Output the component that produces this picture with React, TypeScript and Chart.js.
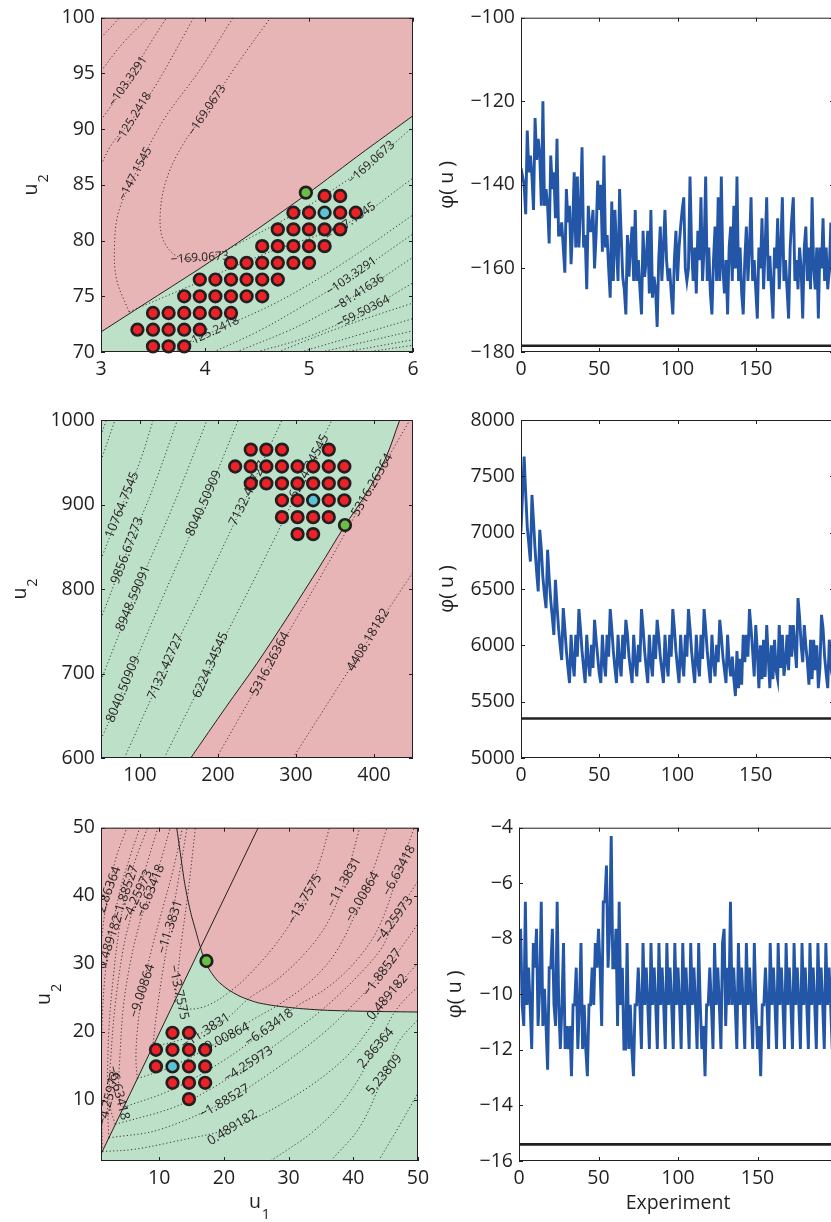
import React, { useEffect, useRef } from "react";
import { Chart, registerables } from "chart.js";

Chart.register(...registerables);

const FONT = '"Open Sans", "Noto Sans", "DejaVu Sans", sans-serif';
const INK = "#231f20";
const PINK = "#e8b5b6";
const MINT = "#bde0c9";
const RED = "#ec2226";
const CYAN = "#5bc4d4";
const LIME = "#6abd45";
const BLUE = "#2356a6";
const CONTOUR = "rgba(35,31,32,0.85)";

Chart.defaults.font.family = FONT;
Chart.defaults.color = INK;

// ---------------- Panel 1 (top-left) ----------------
const p1XTicks = [3, 4, 5, 6];
const p1YTicks = [70, 75, 80, 85, 90, 95, 100];
const p1Boundary = [[3, 71.8], [3.5, 74.8], [4, 77.8], [4.5, 81.0], [5, 84.3], [5.5, 87.8], [6, 91.2]];
const p1RedDots = [
  [3.5, 70.5], [3.65, 70.5], [3.8, 70.5],
  [3.35, 72], [3.5, 72], [3.65, 72], [3.8, 72], [3.95, 72],
  [3.5, 73.5], [3.65, 73.5], [3.8, 73.5], [3.95, 73.5], [4.1, 73.5], [4.25, 73.5],
  [3.8, 75], [3.95, 75], [4.1, 75], [4.25, 75], [4.4, 75], [4.55, 75],
  [3.95, 76.5], [4.1, 76.5], [4.25, 76.5], [4.4, 76.5], [4.55, 76.5], [4.7, 76.5],
  [4.25, 78], [4.4, 78], [4.55, 78], [4.7, 78], [4.85, 78], [5.0, 78],
  [4.55, 79.5], [4.7, 79.5], [4.85, 79.5], [5.0, 79.5], [5.15, 79.5],
  [4.7, 81], [4.85, 81], [5.0, 81], [5.15, 81], [5.3, 81],
  [4.85, 82.5], [5.0, 82.5], [5.3, 82.5], [5.45, 82.5],
  [5.15, 84], [5.3, 84],
];
const p1CyanDot = [[5.15, 82.5]];
const p1GreenDot = [[4.97, 84.3]];
const p1Contours = [
  [[3, 98.2], [3.18, 100]],
  [[3, 95.2], [3.2, 97.6], [3.45, 100]],
  [[3, 90.8], [3.26, 94.3], [3.42, 96.9], [3.63, 100]],
  [[3, 86.8], [3.1, 88.6], [3.31, 91.0], [3.55, 94.3], [3.89, 100]],
  [[3.27, 73.6], [3.15, 76.5], [3.13, 79.6], [3.17, 82.6], [3.33, 86.0], [3.6, 90.8], [3.95, 95.3], [4.27, 100]],
  [[4.3, 79.6], [4.0, 78.4], [3.75, 78.5], [3.6, 80.0], [3.57, 82.5], [3.63, 85.5], [3.78, 88.5], [4.02, 91.7], [4.3, 95.7], [4.63, 100]],
  [[4.3, 79.6], [4.9, 82.6], [5.3, 85.0], [5.6, 87.0], [6, 90.2]],
  [[3.27, 73.6], [3.9, 76.1], [4.6, 78.9], [5.4, 81.7], [6, 85.6]],
  [[3.7, 70], [4.07, 71.8], [4.7, 74.5], [5.3, 77.8], [6, 82.3]],
  [[4.08, 70], [4.5, 71.8], [4.9, 73.9], [5.41, 76.8], [6, 80.6]],
  [[4.3, 70], [4.8, 71.9], [5.1, 73.3], [5.48, 75.3], [6, 78.5]],
  [[4.5, 70], [5.0, 71.4], [5.52, 73.6], [6, 76.2]],
  [[4.7, 70], [5.3, 72.2], [6, 74.4]],
  [[4.92, 70], [5.5, 71.6], [6, 73.0]],
  [[5.12, 70], [6, 71.9]],
  [[5.35, 70], [6, 71.1]],
  [[5.56, 70], [6, 70.6]],
];
const p1Labels = [
  ["\u2212103.3291", 3.26, 94.3, -55],
  ["\u2212125.2418", 3.31, 91.0, -58],
  ["\u2212147.1545", 3.33, 86.0, -62],
  ["\u2212169.0673", 4.02, 91.7, -56],
  ["\u2212169.0673", 3.95, 78.45, -4],
  ["\u2212169.0673", 5.6, 87.0, -42],
  ["\u2212147.1545", 5.4, 81.7, -35],
  ["\u2212125.2418", 4.07, 71.8, -25],
  ["\u2212103.3291", 5.41, 76.8, -35],
  ["\u221281.41636", 5.48, 75.3, -33],
  ["\u221259.50364", 5.52, 73.6, -27],
];

// ---------------- Panel 2 (top-right) ----------------
const p2XTicks = [0, 50, 100, 150];
const p2YTicks = [-180, -160, -140, -120, -100];
const p2Optimum = -178.5;
const p2Phi = [
  -136, -138, -140, -147, -127, -137, -133, -138, -146, -124,
  -134, -129, -133, -145, -120, -145, -141, -145, -154, -133,
  -141, -137, -148, -129, -152, -152, -149, -155, -161, -141,
  -149, -145, -159, -150, -137, -155, -138, -155, -146, -131,
  -155, -152, -165, -145, -151, -151, -146, -160, -152, -139,
  -146, -140, -156, -133, -155, -152, -160, -167, -144, -163,
  -146, -155, -163, -141, -152, -162, -165, -171, -152, -162,
  -155, -150, -163, -146, -163, -158, -165, -171, -151, -162,
  -158, -151, -166, -146, -167, -162, -165, -174, -158, -150,
  -163, -155, -146, -158, -163, -160, -166, -171, -158, -151,
  -163, -155, -150, -146, -143, -160, -163, -160, -138, -155,
  -163, -155, -166, -151, -158, -143, -163, -155, -138, -163,
  -155, -166, -171, -158, -150, -163, -143, -163, -138, -160,
  -166, -158, -171, -155, -150, -163, -145, -160, -138, -163,
  -155, -166, -171, -158, -150, -163, -155, -143, -163, -158,
  -165, -172, -155, -160, -148, -165, -155, -143, -163, -157,
  -165, -172, -155, -160, -148, -165, -155, -143, -163, -158,
  -165, -172, -155, -148, -143, -163, -158, -165, -155, -160,
  -172, -155, -150, -163, -155, -165, -143, -160, -165, -155,
  -172, -155, -160, -148, -163, -155, -165, -160, -149, -163,
  -166,
];

// ---------------- Panel 3 (middle-left) ----------------
const p3XTicks = [100, 200, 300, 400];
const p3YTicks = [600, 700, 800, 900, 1000];
const p3Boundary = [[165, 600], [210, 660], [250, 712], [290, 768], [330, 826], [362, 874], [390, 913], [415, 955], [433, 1000], [450, 1040]];
const p3RedDots = [
  [242, 965], [262, 965], [282, 965], [342, 965],
  [222, 945], [242, 945], [262, 945], [282, 945], [302, 945], [322, 945], [342, 945], [362, 945],
  [242, 925], [262, 925], [282, 925], [302, 925], [322, 925], [342, 925], [362, 925],
  [282, 905], [302, 905], [342, 905], [362, 905],
  [282, 885], [302, 885], [322, 885], [342, 885],
  [302, 865], [322, 865],
];
const p3CyanDot = [[322, 905]];
const p3GreenDot = [[362.8, 875.7]];
const p3Contours = [
  [[50, 982], [57, 1000]],
  [[50, 952], [68, 1000]],
  [[50, 835], [77.3, 899.4], [100, 951], [117, 1000]],
  [[50, 765], [83.8, 845.4], [117, 920], [148, 1000]],
  [[50, 692], [91.5, 789], [140, 893], [186, 1000]],
  [[50, 622], [78.6, 681.3], [130, 792], [182, 901.4], [226, 1000]],
  [[80, 600], [133, 708], [185, 808], [238.6, 913], [282, 1000]],
  [[131, 600], [190.6, 710], [270, 855], [346, 1000]],
  [[198, 600], [266.7, 711.2], [330, 812], [397.8, 923], [446, 1000]],
  [[296, 600], [392.7, 739.7], [450, 820]],
];
const p3Labels = [
  ["10764.7545", 77.3, 899.4, -68],
  ["9856.67273", 83.8, 845.4, -69],
  ["8948.59091", 91.5, 789, -67],
  ["8040.50909", 78.6, 681.3, -68],
  ["7132.42727", 133, 708, -66],
  ["6224.34545", 190.6, 710, -66],
  ["8040.50909", 182, 901.4, -66],
  ["7132.42727", 238.6, 913, -64],
  ["6224.34545", 317, 945, -62],
  ["5316.26364", 266.7, 711.2, -62],
  ["5316.26364", 397.8, 923, -60],
  ["4408.18182", 392.7, 739.7, -59],
];

// ---------------- Panel 4 (middle-right) ----------------
const p4XTicks = [0, 50, 100, 150];
const p4YTicks = [5000, 5500, 6000, 6500, 7000, 7500, 8000];
const p4Optimum = 5350;
const p4Phi = [
  7010, 7350, 7675, 7350, 7050, 6900, 6744, 7335, 7100, 6850,
  6650, 6478, 7025, 6850, 6600, 6450, 6330, 6847, 6600, 6400,
  6250, 6093, 6581, 6350, 6150, 6000, 5870, 6330, 6150, 5950,
  5800, 5665, 6093, 5850, 5724, 6093, 5900, 6321, 6150, 5950,
  5800, 5665, 6093, 5850, 5724, 6005, 5800, 6226, 6050, 5900,
  5750, 5665, 6093, 5850, 5724, 6093, 5900, 6321, 6150, 5950,
  5800, 5665, 6093, 5850, 5724, 6093, 5880, 6226, 6100, 5900,
  5780, 5665, 6093, 5850, 5724, 6005, 5850, 6321, 6150, 5950,
  5800, 5665, 6093, 5850, 5724, 6093, 5880, 6226, 6080, 5900,
  5780, 5665, 6093, 5850, 5724, 6093, 5900, 6321, 6150, 5950,
  5800, 5665, 6093, 5850, 5724, 6093, 5900, 6321, 6150, 5950,
  5800, 5665, 6093, 5850, 5724, 6093, 5880, 6321, 6150, 5950,
  5800, 5665, 6093, 5850, 5724, 6005, 5850, 6226, 6080, 5900,
  5780, 5665, 6093, 5850, 5724, 5900, 5700, 5550, 5950, 5620,
  5880, 5650, 6093, 5850, 6093, 5900, 6321, 6150, 5950, 5724,
  6180, 5950, 5620, 6000, 5700, 6050, 5720, 6180, 5900, 5620,
  6000, 5700, 6050, 5780, 5700, 6180, 5800, 6093, 5730, 5850,
  6093, 5780, 6180, 5900, 6180, 6000, 5800, 6420, 6250, 6000,
  5850, 6180, 6000, 5850, 5650, 6050, 5700, 6050, 5780, 6000,
  5620, 5800, 6270, 6150, 5900, 5750, 5620, 6050, 5850, 5950,
  6000,
];

// ---------------- Panel 5 (bottom-left) ----------------
const p5XTicks = [10, 20, 30, 40, 50];
const p5YTicks = [10, 20, 30, 40, 50];
const p5Line = [[1, 2], [25.3, 50]];
const p5Curve = [
  [12.7, 50], [13.3, 46], [13.9, 42], [14.4, 39.5], [15.0, 37], [15.6, 35], [16.0, 33.6], [16.4, 32.3],
  [17.0, 30.5], [17.9, 28.9], [19.0, 27.5], [20.5, 26.3], [22.5, 25.2], [25.1, 24.3], [28, 23.8],
  [31.9, 23.4], [36, 23.15], [42.2, 23.0], [50, 22.9],
];
const p5GreenTop = [
  [1, 2], [16.4, 32.4], [17.0, 30.5], [17.9, 28.9], [19.0, 27.5], [20.5, 26.3], [22.5, 25.2],
  [25.1, 24.3], [28, 23.8], [31.9, 23.4], [36, 23.15], [42.2, 23.0], [50, 22.9],
];
const p5RedDots = [
  [12.05, 19.85], [14.6, 19.85],
  [9.5, 17.35], [12.05, 17.35], [14.6, 17.35], [17.1, 17.35],
  [9.5, 14.9], [14.6, 14.9], [17.1, 14.9],
  [12.05, 12.5], [14.6, 12.5], [17.1, 12.5],
  [14.6, 10.1],
];
const p5CyanDot = [[12.05, 14.9]];
const p5GreenDot = [[17.3, 30.4]];
const p5Contours = [
  [[1, 33], [1.6, 37.5], [2.24, 40.9], [3.3, 45.5], [5, 50]],
  [[1.2, 2.4], [1.05, 12], [1.2, 22], [1.7, 29], [2.4, 33.2], [3.1, 37], [4.0, 41], [5.4, 45.5], [7, 50]],
  [[2.2, 4.4], [2.0, 10], [2.2, 20], [2.9, 28], [3.8, 35], [4.83, 40.5], [6.4, 45.5], [8.2, 50]],
  [[3.2, 6.4], [2.5, 8.5], [2.24, 10.2], [2.5, 16], [3.2, 24], [4.4, 32], [5.5, 36.5], [6.63, 40], [8.2, 45], [9.8, 50]],
  [[4.5, 8.9], [3.9, 10], [3.7, 11], [3.9, 16], [4.5, 24], [5.7, 31], [7.3, 37], [8.7, 40.7], [10.2, 45], [11.7, 50]],
  [[6.6, 13.1], [6.4, 16], [6.6, 20], [7.4, 26], [8.8, 32], [10.5, 38], [12.2, 44], [13.6, 50]],
  [[9, 17.8], [9.5, 22], [10.4, 28], [11.7, 35.4], [12.9, 42], [14.3, 50]],
  [[12.4, 24.5], [12.8, 28], [13.4, 33], [14.4, 40], [15.6, 50]],
  [[1.2, 2.4], [6, 2.7], [12, 3.8], [21.3, 5.9], [30, 10], [38, 15.5], [42.5, 20.5], [45.3, 25.1], [48, 28], [50, 30.1]],
  [[2.2, 4.4], [10, 5.6], [20.1, 9.74], [28, 14.5], [35, 19.5], [40, 24], [44.5, 28.7], [47.5, 32.5], [50, 35.9]],
  [[3.2, 6.4], [12, 8.8], [18, 11.6], [23.8, 15.2], [30, 19.5], [35.5, 23.5], [41, 28.5], [44.5, 32.5], [46.3, 36.4], [50, 42.2]],
  [[4.5, 8.9], [12, 11.5], [20, 15.8], [27, 20.6], [31, 23.6], [36, 26.5], [40.5, 30.5], [44, 35.5], [47.1, 43.7], [49.4, 50]],
  [[6.6, 13.1], [12, 14.9], [20, 19.0], [24.5, 21.8], [28.5, 24], [33.5, 27.5], [37.5, 32], [41.4, 39.8], [43.5, 45], [45.2, 50]],
  [[9, 17.8], [12.5, 18.6], [17.2, 20.1], [20.5, 22.0], [24, 25], [28, 27.5], [32.5, 31.5], [36, 36], [38.6, 42], [41, 50]],
  [[12.4, 24.5], [14, 23.4], [17, 23.7], [20.5, 25.6], [24, 28.5], [28.5, 33.5], [32.5, 39.5], [34.8, 45], [36.3, 50]],
  [[27.2, 1], [34, 5.5], [39, 10.5], [43.5, 17.6], [46, 22.3], [48, 24.8], [50, 26.6]],
  [[36.5, 1], [41, 6], [44.8, 13.7], [47, 18.5], [50, 21.8]],
  [[43.9, 1], [47, 6], [50, 11]],
];
const p5Labels = [
  ["\u221211.3831", 17.2, 20.1, -33],
  ["\u22129.00864", 20, 19.0, -27],
  ["\u22126.63418", 27, 20.6, -35],
  ["\u22124.25973", 23.8, 15.2, -33],
  ["\u22121.88527", 20.1, 9.74, -30],
  ["0.489182", 21.3, 5.9, -32],
  ["2.86364", 43.5, 17.6, -49],
  ["5.23809", 44.8, 13.7, -50],
  ["\u221213.7575", 32.5, 39.5, -60],
  ["\u221211.3831", 38.6, 42, -60],
  ["\u22129.00864", 41.4, 39.8, -60],
  ["\u22126.63418", 47.1, 43.7, -62],
  ["\u22124.25973", 46.3, 36.4, -54],
  ["\u22121.88527", 44.5, 28.7, -53],
  ["0.489182", 45.3, 25.1, -50],
  ["0.489182", 2.4, 33.2, -72],
  ["2.86364", 2.24, 40.9, -70],
  ["\u22121.88527", 4.83, 40.5, -71],
  ["\u22124.25973", 6.63, 40.0, -65],
  ["\u22126.63418", 8.7, 40.7, -68],
  ["\u221211.3831", 11.7, 35.4, -72],
  ["\u22129.00864", 7.4, 26.0, -72],
  ["\u221213.7575", 13.0, 25.8, 78],
  ["\u22124.25973", 2.24, 10.2, -76],
  ["\u22126.63418", 3.7, 11.0, 76],
];

// ---------------- Panel 6 (bottom-right) ----------------
const p6XTicks = [0, 50, 100, 150];
const p6YTicks = [-16, -14, -12, -10, -8, -6, -4];
const p6Optimum = -15.4;
const p6Phi = [
  -9.04, -7.64, -10.38, -11.14, -6.67, -10.38, -9.04, -10.38, -11.97, -8.15,
  -9.04, -7.64, -11.14, -9.8, -6.67, -11.14, -9.8, -11.14, -12.71, -9.04,
  -9.04, -7.64, -10.38, -11.14, -6.67, -10.38, -11.97, -10.38, -8.15, -11.97,
  -11.14, -11.97, -11.14, -12.95, -10.38, -10.38, -9.04, -11.97, -10.38, -8.15,
  -11.97, -10.38, -11.97, -12.95, -10.38, -10.38, -9.04, -10.38, -8.15, -9.04,
  -7.64, -9.04, -11.14, -6.67, -6.67, -5.36, -9.04, -7.64, -4.3, -9.04,
  -9.04, -7.64, -11.14, -6.67, -10.38, -9.04, -11.97, -11.97, -8.15, -11.97,
  -10.38, -11.97, -12.95, -10.38, -10.38, -9.04, -10.38, -11.97, -8.15, -10.38,
  -9.04, -10.38, -11.97, -8.15, -10.38, -9.04, -10.38, -11.97, -8.15, -10.38,
  -9.04, -10.38, -11.97, -8.15, -10.38, -9.04, -10.38, -11.97, -8.15, -10.38,
  -9.04, -10.38, -11.97, -8.15, -10.38, -9.04, -10.38, -11.97, -8.15, -10.38,
  -9.04, -10.38, -11.97, -8.15, -10.38, -11.97, -11.14, -12.95, -10.38, -10.38,
  -9.04, -10.38, -11.97, -8.15, -10.38, -9.04, -10.38, -11.97, -8.15, -7.64,
  -11.14, -9.04, -10.38, -6.67, -10.38, -9.04, -10.38, -11.97, -8.15, -10.38,
  -9.04, -10.38, -11.97, -8.15, -10.38, -9.04, -10.38, -11.97, -8.15, -10.38,
  -11.97, -11.14, -12.95, -10.38, -10.38, -9.04, -10.38, -11.97, -8.15, -10.38,
  -9.04, -10.38, -11.97, -8.15, -10.38, -9.04, -10.38, -11.97, -8.15, -10.38,
  -9.04, -10.38, -11.97, -8.15, -10.38, -9.04, -10.38, -11.97, -8.15, -10.38,
  -9.04, -10.38, -11.97, -8.15, -10.38, -9.04, -10.38, -11.97, -8.15, -10.38,
  -9.04, -10.38, -11.97, -8.15, -10.38, -9.04, -10.38, -11.97, -8.15, -10.38,
  -9.04,
];

// ---------------- helpers ----------------
const fmt = (v: number) => (v < 0 ? "\u2212" + Math.abs(v) : String(v));
const toXY = (pts: number[][]) => pts.map(([x, y]) => ({ x, y }));

function drawTitleText(ctx: any, main: string, sub: string | undefined) {
  ctx.font = `19.5px ${FONT}`;
  const w1 = ctx.measureText(main).width;
  ctx.font = `14.5px ${FONT}`;
  const w2 = sub ? ctx.measureText(sub).width + 1 : 0;
  const start = -(w1 + w2) / 2;
  ctx.textAlign = "left";
  ctx.textBaseline = "alphabetic";
  ctx.fillStyle = INK;
  ctx.font = `19.5px ${FONT}`;
  ctx.fillText(main, start, 0);
  if (sub) {
    ctx.font = `14.5px ${FONT}`;
    ctx.fillText(sub, start + w1 + 1, 11);
  }
}

function panelPlugin(deco: any) {
  return {
    id: "panelDeco",
    beforeDatasetsDraw(chart: any) {
      if (!deco.bg) return;
      const { ctx, chartArea: a } = chart;
      ctx.save();
      ctx.fillStyle = deco.bg;
      ctx.fillRect(a.left, a.top, a.right - a.left, a.bottom - a.top);
      ctx.restore();
    },
    afterDatasetDraw(chart: any, args: any) {
      const ds = chart.data.datasets[args.index];
      if (!ds || !ds.clabels || !deco.labels) return;
      const { ctx, chartArea: a, scales } = chart;
      ctx.save();
      ctx.beginPath();
      ctx.rect(a.left, a.top, a.right - a.left, a.bottom - a.top);
      ctx.clip();
      ctx.font = `${deco.labelSize}px ${FONT}`;
      ctx.fillStyle = INK;
      ctx.textAlign = "center";
      ctx.textBaseline = "middle";
      for (const [text, x, y, rot] of deco.labels) {
        const px = scales.x.getPixelForValue(x);
        const py = scales.y.getPixelForValue(y);
        ctx.save();
        ctx.translate(px, py);
        ctx.rotate((rot * Math.PI) / 180);
        ctx.fillText(text, 0, 0);
        ctx.restore();
      }
      ctx.restore();
    },
    afterDraw(chart: any) {
      const { ctx, chartArea: a, scales } = chart;
      ctx.save();
      ctx.strokeStyle = INK;
      ctx.lineWidth = 1;
      ctx.strokeRect(a.left + 0.5, a.top + 0.5, a.right - a.left - 1, a.bottom - a.top - 1);
      const T = 4;
      ctx.beginPath();
      for (const t of scales.x.ticks) {
        const px = Math.round(scales.x.getPixelForValue(t.value)) + 0.5;
        ctx.moveTo(px, a.bottom);
        ctx.lineTo(px, a.bottom - T);
        ctx.moveTo(px, a.top);
        ctx.lineTo(px, a.top + T);
      }
      for (const t of scales.y.ticks) {
        const py = Math.round(scales.y.getPixelForValue(t.value)) + 0.5;
        ctx.moveTo(a.left, py);
        ctx.lineTo(a.left + T, py);
        ctx.moveTo(a.right, py);
        ctx.lineTo(a.right - T, py);
      }
      ctx.stroke();
      if (deco.yTitle) {
        ctx.save();
        ctx.translate(a.left + deco.yTitle.dx, (a.top + a.bottom) / 2);
        ctx.rotate(-Math.PI / 2);
        drawTitleText(ctx, deco.yTitle.main, deco.yTitle.sub);
        ctx.restore();
      }
      if (deco.xTitle) {
        ctx.save();
        ctx.translate((a.left + a.right) / 2, a.bottom + deco.xTitle.dy);
        drawTitleText(ctx, deco.xTitle.main, deco.xTitle.sub);
        ctx.restore();
      }
      ctx.restore();
    },
  };
}

function scaleCfg(min: number, max: number, ticks: number[], pad: number, fit: (s: any) => void) {
  return {
    type: "linear",
    min,
    max,
    grid: { display: false, drawTicks: false },
    border: { display: false },
    afterBuildTicks: (s: any) => {
      s.ticks = ticks.map((value) => ({ value }));
    },
    afterFit: fit,
    ticks: {
      padding: pad,
      color: INK,
      font: { family: FONT, size: 19.5 },
      maxRotation: 0,
      minRotation: 0,
      autoSkip: false,
      includeBounds: false,
      callback: (v: any) => fmt(Number(v)),
    },
  };
}

function makeChart(canvas: HTMLCanvasElement, box: any, plot: any, xs: any, ys: any, datasets: any[], deco: any) {
  return new Chart(canvas, {
    type: "line",
    data: { datasets },
    options: {
      responsive: false,
      maintainAspectRatio: false,
      animation: false,
      devicePixelRatio: 1,
      events: [],
      layout: { padding: { top: plot.t - box.y, right: box.x + box.w - plot.r, left: 0, bottom: 0 } },
      scales: {
        x: scaleCfg(xs.min, xs.max, xs.ticks, 6, (s: any) => { s.height = box.y + box.h - plot.b; }),
        y: scaleCfg(ys.min, ys.max, ys.ticks, 6, (s: any) => { s.width = plot.l - box.x; }),
      },
      plugins: { legend: { display: false }, tooltip: { enabled: false } },
    } as any,
    plugins: [panelPlugin(deco)],
  } as any);
}

const dotDs = (pts: number[][], color: string, order: number) => ({
  data: toXY(pts),
  showLine: false,
  pointRadius: 5.8,
  pointBorderWidth: 2.7,
  pointBackgroundColor: color,
  pointBorderColor: INK,
  clip: false,
  order,
});
const contourDs = (pts: number[][]) => ({
  data: toXY(pts),
  borderColor: CONTOUR,
  borderWidth: 1,
  borderDash: [1.2, 2.4],
  pointRadius: 0,
  tension: 0.35,
  fill: false,
  order: 3,
});
const boundaryDs = (pts: number[][], tension: number, labels: boolean) => ({
  data: toXY(pts),
  borderColor: INK,
  borderWidth: 1,
  pointRadius: 0,
  tension,
  fill: false,
  order: 2,
  clabels: labels,
});
const fillDs = (pts: number[][], color: string, tension: number) => ({
  data: toXY(pts),
  borderColor: "rgba(0,0,0,0)",
  borderWidth: 1,
  pointRadius: 0,
  tension,
  fill: "start",
  backgroundColor: color,
  order: 4,
});
const seriesDs = (vals: number[]) => ({
  data: vals.map((v, i) => ({ x: i, y: v })),
  borderColor: BLUE,
  borderWidth: 2.9,
  pointRadius: 0,
  tension: 0,
  fill: false,
  order: 1,
});
const optimumDs = (v: number) => ({
  data: [{ x: 0, y: v }, { x: 200, y: v }],
  borderColor: INK,
  borderWidth: 2.6,
  pointRadius: 0,
  fill: false,
  order: 2,
});

const BOXES = [
  { x: 0, y: 0, w: 450, h: 400 },
  { x: 0, y: 400, w: 450, h: 410 },
  { x: 0, y: 810, w: 450, h: 412 },
  { x: 420, y: 0, w: 430, h: 400 },
  { x: 420, y: 400, w: 430, h: 410 },
  { x: 420, y: 810, w: 430, h: 412 },
];
const PLOTS = [
  { l: 101, t: 14, r: 413, b: 352 },
  { l: 101, t: 420, r: 413, b: 758 },
  { l: 101, t: 823, r: 418, b: 1161 },
  { l: 521, t: 14, r: 834, b: 352 },
  { l: 521, t: 420, r: 834, b: 758 },
  { l: 519, t: 823, r: 837, b: 1161 },
];

export default function App() {
  const r0 = useRef<HTMLCanvasElement>(null);
  const r1 = useRef<HTMLCanvasElement>(null);
  const r2 = useRef<HTMLCanvasElement>(null);
  const r3 = useRef<HTMLCanvasElement>(null);
  const r4 = useRef<HTMLCanvasElement>(null);
  const r5 = useRef<HTMLCanvasElement>(null);
  const refs = [r0, r1, r2, r3, r4, r5];

  useEffect(() => {
    const charts: Chart[] = [];
    charts.push(
      makeChart(r0.current!, BOXES[0], PLOTS[0], { min: 3, max: 6, ticks: p1XTicks }, { min: 70, max: 100, ticks: p1YTicks }, [
        dotDs(p1CyanDot, CYAN, 0),
        dotDs(p1GreenDot, LIME, 0),
        dotDs(p1RedDots, RED, 1),
        boundaryDs(p1Boundary, 0.2, true),
        ...p1Contours.map(contourDs),
        fillDs(p1Boundary, MINT, 0.2),
      ], { bg: PINK, labels: p1Labels, labelSize: 12, yTitle: { main: "u", sub: "2", dx: -64 } })
    );
    charts.push(
      makeChart(r1.current!, BOXES[1], PLOTS[1], { min: 50, max: 450, ticks: p3XTicks }, { min: 600, max: 1000, ticks: p3YTicks }, [
        dotDs(p3CyanDot, CYAN, 0),
        dotDs(p3GreenDot, LIME, 0),
        dotDs(p3RedDots, RED, 1),
        boundaryDs(p3Boundary, 0.3, true),
        ...p3Contours.map(contourDs),
        fillDs(p3Boundary, PINK, 0.3),
      ], { bg: MINT, labels: p3Labels, labelSize: 13, yTitle: { main: "u", sub: "2", dx: -75 } })
    );
    charts.push(
      makeChart(r2.current!, BOXES[2], PLOTS[2], { min: 1, max: 50, ticks: p5XTicks }, { min: 1, max: 50, ticks: p5YTicks }, [
        dotDs(p5CyanDot, CYAN, 0),
        dotDs(p5GreenDot, LIME, 0),
        dotDs(p5RedDots, RED, 1),
        boundaryDs(p5Curve, 0.2, false),
        boundaryDs(p5Line, 0, true),
        ...p5Contours.map(contourDs),
        fillDs(p5GreenTop, MINT, 0),
      ], {
        bg: PINK, labels: p5Labels, labelSize: 13,
        yTitle: { main: "u", sub: "2", dx: -51 },
        xTitle: { main: "u", sub: "1", dy: 47 },
      })
    );
    charts.push(
      makeChart(r3.current!, BOXES[3], PLOTS[3], { min: 0, max: 200, ticks: p2XTicks }, { min: -180, max: -100, ticks: p2YTicks }, [
        seriesDs(p2Phi),
        optimumDs(p2Optimum),
      ], { yTitle: { main: "\u03c6( u )", dx: -68 } })
    );
    charts.push(
      makeChart(r4.current!, BOXES[4], PLOTS[4], { min: 0, max: 200, ticks: p4XTicks }, { min: 5000, max: 8000, ticks: p4YTicks }, [
        seriesDs(p4Phi),
        optimumDs(p4Optimum),
      ], { yTitle: { main: "\u03c6( u )", dx: -68 } })
    );
    charts.push(
      makeChart(r5.current!, BOXES[5], PLOTS[5], { min: 0, max: 200, ticks: p6XTicks }, { min: -16, max: -4, ticks: p6YTicks }, [
        seriesDs(p6Phi),
        optimumDs(p6Optimum),
      ], { yTitle: { main: "\u03c6( u )", dx: -58 }, xTitle: { main: "Experiment", dy: 48 } })
    );
    return () => charts.forEach((c) => c.destroy());
  }, []);

  return (
    <div style={{ position: "fixed", left: 0, top: 0, width: 831, height: 1222, overflow: "hidden", background: "#ffffff" }}>
      {BOXES.map((b, i) => (
        <canvas
          key={i}
          ref={refs[i]}
          width={b.w}
          height={b.h}
          style={{ position: "absolute", left: b.x, top: b.y, width: b.w, height: b.h }}
        />
      ))}
    </div>
  );
}
